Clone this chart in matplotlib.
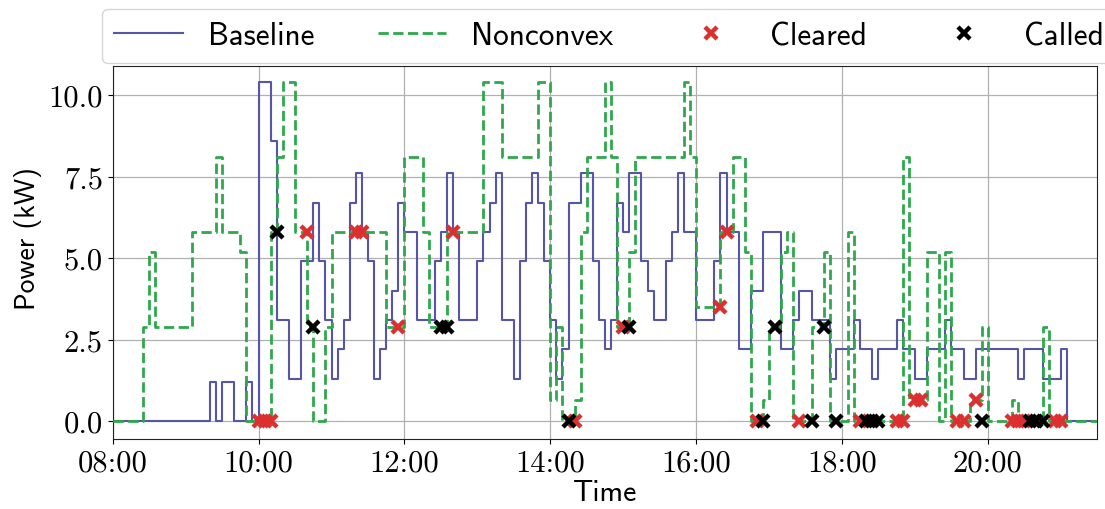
import matplotlib
matplotlib.use("Agg")
import matplotlib.pyplot as plt
import matplotlib.dates as mdates
import pandas as pd

# --- data: change points of each step series (time, value in kW) -----------
BASE_T = ["08:00", "09:20", "09:25", "09:30", "09:40", "09:50", "09:55", "10:00",
          "10:10", "10:15", "10:25", "10:35", "10:45", "10:50", "10:55", "11:00",
          "11:05", "11:10", "11:15", "11:20", "11:25", "11:30", "11:35", "11:40",
          "11:45", "11:50", "11:55", "12:00", "12:10", "12:25", "12:30", "12:35",
          "12:40", "12:45", "13:00", "13:05", "13:10", "13:15", "13:20", "13:30",
          "13:35", "13:40", "13:45", "13:50", "13:55", "14:00", "14:05", "14:10",
          "14:15", "14:25", "14:35", "14:40", "14:45", "14:50", "14:55", "15:00",
          "15:05", "15:15", "15:20", "15:25", "15:35", "15:40", "15:45", "15:50",
          "16:00", "16:15", "16:20", "16:25", "16:35", "16:45", "16:55", "17:10",
          "17:20", "17:25", "17:35", "17:50", "17:55", "18:10", "18:15", "18:25",
          "18:30", "18:45", "18:50", "19:00", "19:10", "19:25", "19:30", "19:40",
          "19:50", "20:25", "20:30", "20:45", "21:00", "21:05", "21:30"]
BASE_V = [0, 1.2, 0, 1.2, 0, 1.2, 0, 10.4,
          8.6, 3.1, 1.3, 4.9, 6.7, 4.9, 3.1, 1.3,
          2.2, 3.1, 6.7, 7.6, 5.8, 4.9, 1.3, 2.2,
          3.1, 4.0, 6.7, 5.8, 3.1, 4.9, 5.8, 7.6,
          5.8, 3.1, 4.9, 5.8, 6.7, 7.6, 3.1, 1.3,
          4.9, 6.7, 7.6, 6.7, 4.9, 3.1, 1.3, 2.2,
          6.7, 7.6, 4.9, 3.1, 2.2, 3.1, 6.7, 5.8,
          7.6, 4.9, 4.0, 3.1, 4.9, 5.8, 7.6, 5.8,
          3.1, 4.9, 7.6, 5.8, 2.2, 4.0, 5.8, 2.2,
          3.1, 4.0, 3.1, 1.3, 2.2, 3.1, 2.2, 1.3,
          2.2, 3.1, 2.2, 1.3, 2.2, 3.1, 2.2, 1.3,
          2.2, 1.3, 2.2, 1.3, 2.2, 0, 0]

NONCVX_T = ["08:00", "08:25", "08:30", "08:35", "09:05", "09:25", "09:30", "09:45",
            "09:50", "10:10", "10:15", "10:20", "10:30", "10:40", "10:45", "10:55",
            "11:00", "11:45", "12:00", "12:15", "12:20", "12:35", "13:05", "13:20",
            "13:50", "14:00", "14:05", "14:10", "14:20", "14:25", "14:30", "14:45",
            "14:50", "14:55", "15:05", "15:10", "15:50", "15:55", "16:00", "16:20",
            "16:30", "16:40", "16:45", "16:55", "17:00", "17:10", "17:15", "17:20",
            "17:35", "17:45", "17:50", "18:05", "18:10", "18:50", "18:55", "19:10",
            "19:20", "19:25", "19:30", "19:45", "19:55", "20:00", "20:20", "20:25",
            "20:45", "20:50", "21:30"]
NONCVX_V = [0, 2.9, 5.2, 2.9, 5.8, 8.1, 5.8, 5.2,
            0, 5.8, 8.1, 10.4, 5.8, 2.9, 0, 2.9,
            5.8, 2.9, 8.1, 5.8, 2.9, 5.8, 10.4, 8.1,
            10.4, 0.65, 2.9, 0, 0.65, 5.8, 8.1, 10.4,
            8.1, 2.9, 5.2, 8.1, 10.4, 8.1, 3.5, 5.8,
            8.1, 5.2, 0, 0.65, 2.9, 5.2, 5.8, 0,
            2.9, 5.2, 0, 5.8, 0, 8.1, 0.65, 5.2,
            0, 5.2, 0, 0.65, 2.9, 0, 0.65, 0,
            2.9, 0, 0]

CLEARED_T = ["10:00", "10:05", "10:10", "10:40", "11:20", "11:25", "11:55", "12:40",
             "14:20", "15:00", "16:20", "16:25", "16:50", "17:25", "18:15", "18:45",
             "18:50", "19:00", "19:05", "19:35", "19:40", "19:50", "20:20", "20:25",
             "20:30", "20:55", "21:00"]
CLEARED_V = [0, 0, 0, 5.8, 5.8, 5.8, 2.9, 5.8,
             0, 2.9, 3.5, 5.8, 0, 0, 0, 0,
             0, 0.65, 0.65, 0, 0, 0.65, 0, 0,
             0, 0, 0]

CALLED_T = ["10:15", "10:45", "12:30", "12:35", "14:15", "15:05", "16:55", "17:05",
            "17:35", "17:45", "17:55", "18:20", "18:25", "18:30", "19:55", "20:35",
            "20:40", "20:45"]
CALLED_V = [5.8, 2.9, 2.9, 2.9, 0, 2.9, 0, 2.9,
            0, 2.9, 0, 0, 0, 0, 0, 0,
            0, 0]

BLUE, GREEN, RED = "#5656a8", "#2ea84c", "#dc2f2f"


def to_time(hhmm):
    return pd.to_datetime(["2021-06-01 " + h for h in hhmm])


plt.rcParams.update({
    "font.family": "cmss10",
    "font.size": 21,
    "axes.unicode_minus": False,
    "axes.edgecolor": "#222222",
})

fig = plt.figure(figsize=(11.05, 5.1), dpi=100)
ax = fig.add_axes([0.102, 0.137, 0.891, 0.732])

ax.step(to_time(BASE_T), BASE_V, where="post", color=BLUE, lw=1.5,
        label="Baseline", zorder=3)
ax.step(to_time(NONCVX_T), NONCVX_V, where="post", color=GREEN, lw=2.0,
        ls="--", label="Nonconvex", zorder=4)
ax.plot(to_time(CLEARED_T), CLEARED_V, ls="none", marker="x", ms=8.5, mew=3.2,
        color=RED, label="Cleared", zorder=5)
ax.plot(to_time(CALLED_T), CALLED_V, ls="none", marker="x", ms=8.5, mew=3.2,
        color="black", label="Called", zorder=6)

ax.set_xlim(pd.Timestamp("2021-06-01 08:00"), pd.Timestamp("2021-06-01 21:30"))
ax.set_ylim(-0.55, 10.9)
ax.set_yticks([0, 2.5, 5.0, 7.5, 10.0])
ax.set_yticklabels(["0.0", "2.5", "5.0", "7.5", "10.0"])
ax.xaxis.set_major_locator(mdates.HourLocator(byhour=range(8, 22, 2)))
ax.xaxis.set_major_formatter(mdates.DateFormatter("%H:%M"))
for lab in ax.get_xticklabels() + ax.get_yticklabels():
    lab.set_fontfamily("cmr10")
    lab.set_fontsize(22)
ax.grid(True, color="#b0b0b0", lw=0.9)
ax.set_axisbelow(True)
ax.set_xlabel("Time", fontsize=21.5, labelpad=2)
ax.set_ylabel("Power (kW)", fontsize=20)
ax.yaxis.set_label_coords(-0.072, 0.54)

ax.legend(loc="lower left", bbox_to_anchor=(-0.011, 1.008, 1.03, 0.11),
          mode="expand", ncol=4, fontsize=22.5, frameon=True, fancybox=True,
          borderaxespad=0, handlelength=2.2, edgecolor="#cccccc")

fig.savefig("out.png", dpi=100)
